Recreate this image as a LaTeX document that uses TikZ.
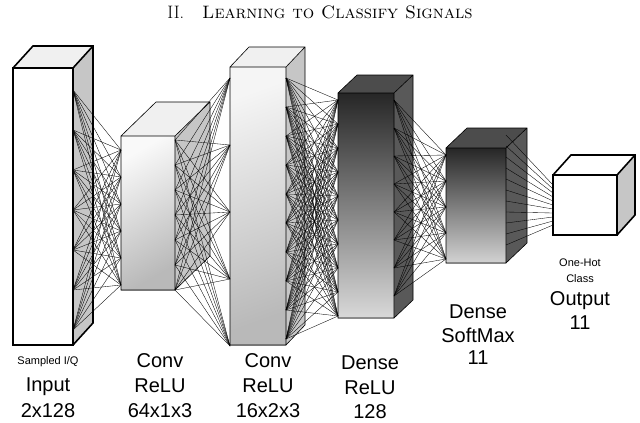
\documentclass[tikz,border=0pt]{standalone}
\usepackage{fontspec}
\newfontfamily\labelfont{Liberation Sans}
\tikzset{
  net/.style={black, line width=0.35pt},
  face/.style={draw=black, line width=0.6pt},
  heavy/.style={draw=black, line width=1.6pt},
  big/.style={font=\labelfont\fontsize{20}{22}\selectfont, inner sep=0pt},
  small/.style={font=\labelfont\fontsize{11}{12}\selectfont, inner sep=0pt}
}
\def\sidecol{gray!45}
\def\topcol{gray!12}
% box: #1 name, #2 x1, #3 y1, #4 x2, #5 y2, #6 dx, #7 dy, #8 front fill, #9 style
\newcommand{\layerbox}[9]{
  \coordinate (#1-tl) at (#2,#3);
  \coordinate (#1-br) at (#4,#5);
  \fill[\sidecol] (#4,#3) -- ++(#6,#7) -- ++(0,#5-#3) -- (#4,#5) -- cycle;
  \fill[\topcol] (#2,#3) -- ++(#6,#7) -- ++(#4-#2,0) -- (#4,#3) -- cycle;
  \fill[#8] (#2,#3) rectangle (#4,#5);
  \draw[#9] (#2,#3) -- ++(#6,#7) -- ++(#4-#2,0) -- ++(0,#5-#3) -- (#4,#5)
    (#4,#3) -- ++(#6,#7) (#2,#3) rectangle (#4,#5);
}
\begin{document}
\begin{tikzpicture}[x=1pt,y=-1pt]
\useasboundingbox (0,0) rectangle (640,423);

% title
\node[font=\fontsize{18}{20}\selectfont] (title) at (320,12) {II.\quad\textsc{Learning to Classify Signals}};

% layers
\layerbox{inp}{13}{68}{73}{345}{20}{-22}{white}{heavy}
\layerbox{cva}{121}{136}{175}{290}{35}{-34}{top color=gray!5, bottom color=gray!55, shading angle=30}{face}
\layerbox{cvb}{230}{67}{286}{345}{19}{-20}{left color=gray!8, right color=gray!55, shading angle=20}{face}
\def\sidecol{black!65}
\def\topcol{black!70}
\layerbox{dsa}{338}{93}{394}{318}{19}{-18}{top color=black!85, bottom color=gray!30}{face}
\layerbox{dsb}{446}{148}{506}{263}{21}{-20}{top color=black!85, bottom color=gray!35}{face}
\def\sidecol{gray!45}
\def\topcol{white}
\layerbox{out}{553}{175}{617}{235}{18}{-20}{white}{heavy}

% connection points
\foreach \k in {0,...,6} \coordinate (p1-\k) at (73,{90+\k*40});
\foreach \k in {0,...,5} \coordinate (q1-\k) at (121,{150+\k*27});
\foreach \k in {0,...,6} \coordinate (p2-\k) at (175,{140+\k*25});
\foreach \k in {0,...,4} \coordinate (q2-\k) at (230,{78+\k*67});
\foreach \k in {0,...,9} \coordinate (p3-\k) at (286,{78+\k*29});
\foreach \k in {0,...,9} \coordinate (q3-\k) at (338,{100+\k*24});
\foreach \k in {0,...,7} \coordinate (p4-\k) at (394,{100+\k*28});
\foreach \k in {0,...,4} \coordinate (q4-\k) at (446,{155+\k*26});
\foreach \k in {0,...,10} \coordinate (p5-\k) at (506,{135+\k*11});
\foreach \k in {0,...,10} \coordinate (q5-\k) at (553,{185+\k*4});

% connections
\foreach \i in {0,...,6} \foreach \j in {0,...,5} \draw[net] (p1-\i) -- (q1-\j);
\foreach \i in {0,...,6} \foreach \j in {0,...,4} \draw[net] (p2-\i) -- (q2-\j);
\foreach \i in {0,...,9} \foreach \j in {0,...,9} \draw[net] (p3-\i) -- (q3-\j);
\foreach \i in {0,...,7} \foreach \j in {0,...,4} \draw[net] (p4-\i) -- (q4-\j);
\foreach \i in {0,...,10} \draw[net] (p5-\i) -- (q5-\i);

% labels
\node[small] (inpa) at (48,362) {Sampled I/Q};
\node[big] (inpb) at (48,387) {Input};
\node[big] (inpc) at (48,411) {2x128};
\node[big] (cvaa) at (160,361) {Conv};
\node[big] (cvab) at (160,386) {ReLU};
\node[big] (cvac) at (160,411) {64x1x3};
\node[big] (cvba) at (268,361) {Conv};
\node[big] (cvbb) at (268,386) {ReLU};
\node[big] (cvbc) at (268,411) {16x2x3};
\node[big] (dsaa) at (370,363) {Dense};
\node[big] (dsab) at (370,388) {ReLU};
\node[big] (dsac) at (370,412) {128};
\node[big] (dsba) at (478,312) {Dense};
\node[big] (dsbb) at (478,335) {SoftMax};
\node[big] (dsbc) at (478,358) {11};
\node[small] (outa) at (580,263) {One-Hot};
\node[small] (outb) at (580,279) {Class};
\node[big] (outc) at (580,301) {Output};
\node[big] (outd) at (580,323) {11};
\end{tikzpicture}
\end{document}
